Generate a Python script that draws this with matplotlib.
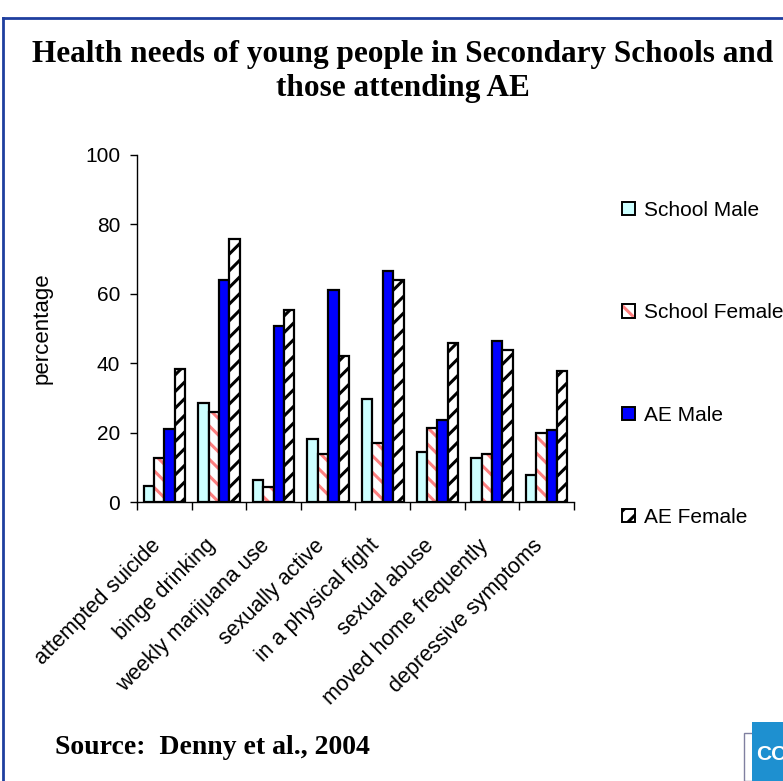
"""
Health needs of young people in Secondary Schools and those attending AE.
"""
import numpy as np
import matplotlib
matplotlib.use("Agg")
import matplotlib.pyplot as plt
from matplotlib.patches import Rectangle
from matplotlib.lines import Line2D
from matplotlib.transforms import ScaledTranslation
from matplotlib.legend_handler import HandlerTuple

categories = ['attempted suicide', 'binge drinking', 'weekly marijuana use',
              'sexually active', 'in a physical fight', 'sexual abuse',
              'moved home frequently', 'depressive symptoms']
school_male = [4.6, 28.5, 6.4, 18.2, 29.8, 14.4, 12.6, 7.8]
school_female = [12.6, 26.1, 4.5, 13.8, 16.9, 21.3, 13.8, 19.9]
ae_male = [21.2, 64.0, 50.6, 61.0, 66.5, 23.8, 46.4, 20.7]
ae_female = [38.3, 75.7, 55.4, 42.0, 64.0, 45.8, 43.9, 37.8]
yticks = [0, 20, 40, 60, 80, 100]

plt.rcParams['font.family'] = ['Liberation Sans', 'DejaVu Sans']
plt.rcParams['hatch.linewidth'] = 2.2

fig = plt.figure(figsize=(7.83, 7.81), dpi=100)
ax = fig.add_axes([0.175, 0.357, 0.558, 0.4447])

x = np.arange(len(categories))
w = 0.19
off = [-1.5 * w, -0.5 * w, 0.5 * w, 1.5 * w]

ax.bar(x + off[0], school_male, w, color='#CCFFFF', edgecolor='black',
       linewidth=1.6)
# pink stripes, then a black outline on top
ax.bar(x + off[1], school_female, w, color='white', edgecolor='#FF8080',
       hatch='\\\\', linewidth=0)
ax.bar(x + off[1], school_female, w, fill=False, edgecolor='black',
       linewidth=1.6)
ax.bar(x + off[2], ae_male, w, color='#0000FF', edgecolor='black',
       linewidth=1.6)
ax.bar(x + off[3], ae_female, w, color='white', edgecolor='black',
       hatch='//', linewidth=1.6)

ax.set_xlim(-0.5, len(categories) - 0.5)
ax.set_ylim(0, 100)
ax.set_yticks(yticks)
ax.tick_params(axis='y', labelsize=15, direction='out', length=5, width=1,
               pad=7)
ax.set_xticks(x)
ax.set_xticklabels(categories, rotation=45, ha='right', va='center',
                   rotation_mode='anchor', fontsize=15.5)
ax.tick_params(axis='x', length=0, pad=29)
for lbl in ax.get_xticklabels():
    lbl.set_transform(lbl.get_transform() +
                      ScaledTranslation(-7 / 100, 0, fig.dpi_scale_trans))
# category separators below the axis
ax.set_xticks(np.arange(len(categories) + 1) - 0.5, minor=True)
ax.tick_params(axis='x', which='minor', direction='out', length=6, width=1)
ax.spines['top'].set_visible(False)
ax.spines['right'].set_visible(False)
ax.spines['left'].set_linewidth(1)
ax.spines['bottom'].set_linewidth(1)
ax.set_ylabel('percentage', fontsize=16, va='center')
ax.yaxis.set_label_coords((42 - 137) / 437, 0.5)

pink = (Rectangle((0, 0), 1, 1, facecolor='white', edgecolor='#FF8080',
                  hatch='\\\\', lw=0),
        Rectangle((0, 0), 1, 1, fill=False, edgecolor='black', lw=1.4))
handles = [
    Rectangle((0, 0), 1, 1, facecolor='#CCFFFF', edgecolor='black', lw=1.4),
    pink,
    Rectangle((0, 0), 1, 1, facecolor='#0000FF', edgecolor='black', lw=1.4),
    Rectangle((0, 0), 1, 1, facecolor='white', edgecolor='black',
              hatch='//', lw=1.4),
]
labels = ['School Male', 'School Female', 'AE Male', 'AE Female']
fig.legend(handles, labels, loc='upper left',
           bbox_to_anchor=(622 / 783, 1 - 201 / 781),
           frameon=False, fontsize=15, handlelength=0.6, handleheight=0.6,
           handletextpad=0.45, labelspacing=4.0, borderpad=0,
           borderaxespad=0, handler_map={tuple: HandlerTuple(ndivide=1, pad=0)})

fig.text(0.514, 0.908, 'Health needs of young people in Secondary Schools and\n'
         'those attending AE', ha='center', va='center', fontsize=22.5,
         fontweight='bold', family='Liberation Serif', linespacing=1.22)
fig.text(55 / 783, 0.0435, 'Source:  Denny et al., 2004', ha='left',
         va='center', fontsize=20, fontweight='bold', family='Liberation Serif')

# blue frame around the slide
frame_col = '#1F3F9F'
fig.add_artist(Line2D([3 / 783, 1], [1 - 18 / 781, 1 - 18 / 781],
                      color=frame_col, lw=2, transform=fig.transFigure))
fig.add_artist(Line2D([3 / 783, 3 / 783], [0, 1 - 18 / 781],
                      color=frame_col, lw=2, transform=fig.transFigure))

# logo fragment at bottom right
fig.add_artist(Rectangle((744 / 783, 0), 50 / 783, 48 / 781, fill=False,
                         edgecolor='#8080A0', lw=1,
                         transform=fig.transFigure))
fig.add_artist(Rectangle((752 / 783, 0), 31 / 783, 59 / 781,
                         facecolor='#1E90D0', edgecolor='none',
                         transform=fig.transFigure))
fig.text(756 / 783, 26 / 781, 'CO', color='white', fontsize=15,
         fontweight='bold', va='center', ha='left', family='Liberation Sans')

fig.savefig('out.png', dpi=100)
